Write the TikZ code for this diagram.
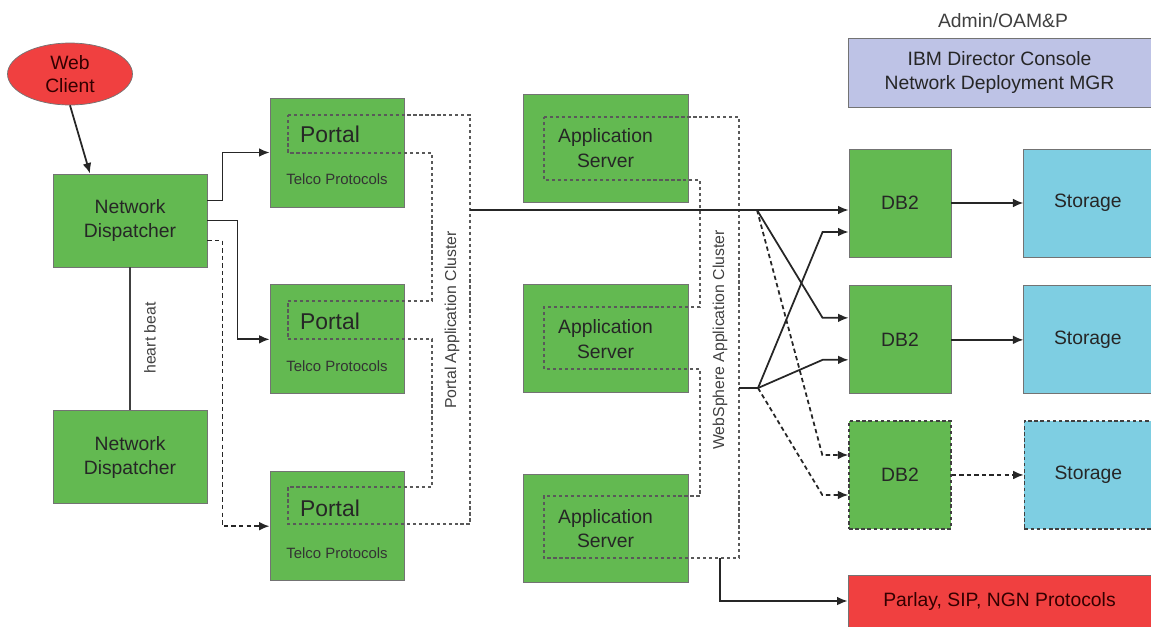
\documentclass[tikz,border=0pt]{standalone}
\usepackage{fontspec}
\setmainfont{Liberation Sans}
\usepackage{tikz}
\usetikzlibrary{positioning, shapes.geometric, arrows.meta}

\definecolor{nodegreen}{RGB}{99,185,81}
\definecolor{clientred}{RGB}{240,64,64}
\definecolor{storeblue}{RGB}{126,206,226}
\definecolor{adminblue}{RGB}{190,195,230}

\begin{document}
\begin{tikzpicture}[
  x=0.02cm, y=-0.02cm,
  box/.style={draw=black!55, line width=0.5pt, fill=nodegreen, rectangle, align=center, inner sep=0pt, font=\fontsize{11}{14}\selectfont, text=black!85},
  dispatcher/.style={box, minimum width=3.08cm, minimum height=1.86cm},
  portal/.style={box, minimum width=2.68cm, minimum height=2.18cm},
  portalname/.style={font=\fontsize{13}{15}\selectfont, text=black!85, inner sep=0pt},
  protocols/.style={font=\fontsize{8.5}{10}\selectfont, text=black!80, inner sep=0pt},
  appserver/.style={box, minimum width=3.3cm, minimum height=2.16cm},
  database/.style={box, minimum width=2.04cm, minimum height=2.16cm},
  storage/.style={database, fill=storeblue, minimum width=2.56cm},
  wide/.style={box, minimum width=6.06cm},
  standby/.style={draw=black!75, line width=0.8pt, dash pattern=on 2pt off 1.5pt},
  cluster/.style={draw=black!65, line width=1pt, dash pattern=on 1.8pt off 1.6pt},
  tag/.style={font=\fontsize{9}{11}\selectfont, text=black!75, rotate=90, inner sep=0pt},
  link/.style={-{Latex[length=6pt, width=5pt]}, line width=1pt, black!85},
  backup/.style={link, dash pattern=on 2.5pt off 1.8pt}
]
\useasboundingbox (0,0) rectangle (1151,626);

% Client and dispatchers
\node[ellipse, draw=black!55, fill=clientred, minimum width=2.5cm, minimum height=1.24cm, inner sep=0pt, align=center, font=\fontsize{11}{13}\selectfont, text=black!80!red] (WebClient) at (70,74) {Web\\Client};
\node[dispatcher] (Dispatcher) at (130,220.5) {Network\\Dispatcher};
\node[dispatcher, below=2.86cm of Dispatcher] (BackupDispatcher) {Network\\Dispatcher};
\node[tag] (HeartBeat) at (150,338) {heart beat};

% Portal cluster
\node[portal] (Portal1) at (337,152.5) {};
\node[portal, below=1.54cm of Portal1] (Portal2) {};
\node[portal, below=1.54cm of Portal2] (Portal3) {};
\node[portalname] (PortalName1) at ([xshift=-0.14cm, yshift=0.36cm]Portal1.center) {Portal};
\node[portalname] (PortalName2) at ([xshift=-0.14cm, yshift=0.36cm]Portal2.center) {Portal};
\node[portalname] (PortalName3) at ([xshift=-0.14cm, yshift=0.36cm]Portal3.center) {Portal};
\node[protocols] (PortalProto1) at ([yshift=-0.53cm]Portal1.center) {Telco Protocols};
\node[protocols] (PortalProto2) at ([yshift=-0.53cm]Portal2.center) {Telco Protocols};
\node[protocols] (PortalProto3) at ([yshift=-0.53cm]Portal3.center) {Telco Protocols};

\draw[cluster] (288,115) -- (470,115) -- (470,524) -- (288,524) -- (288,487) -- (432,487) -- (432,339) -- (288,339) -- (288,301) -- (432,301) -- (432,153) -- (288,153) -- cycle;
\node[tag] (PortalTag) at (452,320) {Portal Application Cluster};

% Application servers
\node[appserver] (Server1) at (605.5,148) {Application\\Server};
\node[appserver, below=1.64cm of Server1] (Server2) {Application\\Server};
\node[appserver, below=1.62cm of Server2] (Server3) {Application\\Server};

\draw[cluster] (544,117) -- (739,117) -- (739,558) -- (544,558) -- (544,496) -- (700,496) -- (700,369) -- (544,369) -- (544,307) -- (700,307) -- (700,180) -- (544,180) -- cycle;
\node[tag] (ServerTag) at (720,340) {WebSphere Application Cluster};

% Databases and storage
\node[database] (DB1) at (900,203) {DB2};
\node[database, below=0.56cm of DB1] (DB2) {DB2};
\node[database, standby, below=0.52cm of DB2] (DB3) {DB2};
\node[storage, right=1.44cm of DB1] (Storage1) {Storage};
\node[storage, right=1.44cm of DB2] (Storage2) {Storage};
\node[storage, standby, right=1.44cm of DB3] (Storage3) {Storage};

% Admin and protocols
\node[text=black!75, font=\fontsize{11}{13}\selectfont] (AdminLabel) at (1003,21) {Admin/OAM\&P};
\node[wide, fill=adminblue, minimum height=1.38cm] (Director) at (999.5,72.5) {IBM Director Console\\Network Deployment MGR};
\node[wide, fill=clientred, minimum height=1.04cm, text=black!80!red] (Parlay) at (999.5,601) {Parlay, SIP, NGN Protocols};

% Connection points
\coordinate (PortalOut) at (470,210);
\coordinate (FanTop) at (757,210);
\coordinate (ServerOut) at (739,388);
\coordinate (FanBottom) at (758,388);
\coordinate (ServerDown) at (720,558);

% Dispatching
\draw[link] (WebClient.south) -- ([xshift=-0.8cm]Dispatcher.north);
\draw[link] ([yshift=0.4cm]Dispatcher.east) -- ++(15,0) |- (Portal1.west);
\draw[link] (Dispatcher.east) -- ++(30,0) |- (Portal2.west);
\draw[backup] ([yshift=-0.4cm]Dispatcher.east) -- ++(15,0) |- (Portal3.west);
\draw[black!75, semithick] (Dispatcher) -- (BackupDispatcher);

% Data access
\draw[link] (PortalOut) -- ([yshift=-0.14cm]DB1.west);
\draw[link] (FanTop) -- ([xshift=-0.52cm, yshift=0.44cm]DB2.west) -- ([yshift=0.44cm]DB2.west);
\draw[backup] (FanTop) -- ([xshift=-0.52cm, yshift=0.4cm]DB3.west) -- ([yshift=0.4cm]DB3.west);
\draw[line width=1pt, black!85] (ServerOut) -- (FanBottom);
\draw[link] (FanBottom) -- ([xshift=-0.52cm, yshift=-0.58cm]DB1.west) -- ([yshift=-0.58cm]DB1.west);
\draw[link] (FanBottom) -- ([xshift=-0.52cm, yshift=-0.4cm]DB2.west) -- ([yshift=-0.4cm]DB2.west);
\draw[backup] (FanBottom) -- ([xshift=-0.52cm, yshift=-0.4cm]DB3.west) -- ([yshift=-0.4cm]DB3.west);
\draw[link] (DB1) -- (Storage1);
\draw[link] (DB2) -- (Storage2);
\draw[backup] (DB3) -- (Storage3);
\draw[link] (ServerDown) |- (Parlay.west);

\end{tikzpicture}
\end{document}
